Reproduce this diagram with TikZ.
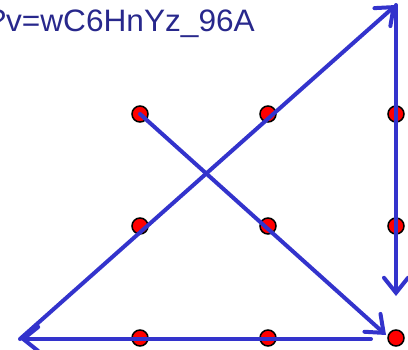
\documentclass[tikz,border=0pt]{standalone}
\usepackage{fontspec}
\setmainfont{Liberation Sans}
\usetikzlibrary{arrows.meta}
\definecolor{Puzzle}{RGB}{51,51,204}
\definecolor{Navy}{RGB}{40,40,140}
\definecolor{DotRed}{RGB}{255,0,0}

\begin{document}
\begin{tikzpicture}[
    x=1pt,y=-1pt,
    dot/.style={circle,draw=black,fill=DotRed,line width=1.5pt,minimum size=16pt,inner sep=0pt},
    stroke/.style={Puzzle,line width=4pt,line cap=round,-{Straight Barb[length=15pt,width=24pt,line cap=round]}},
    url/.style={Navy,font=\fontsize{31}{31}\selectfont,inner sep=0pt,anchor=base east}
]
\clip (0,0) rectangle (408,349);

% Link text (cut at the left edge)
\node[url] (link) at (255,31) {\scalebox{1.02}[1]{?v=wC6HnYz\_96A}};

% Row 1
\node[dot] (d11) at (140,114) {};
\node[dot] (d12) at (268,114) {};
\node[dot] (d13) at (396,114) {};

% Row 2
\node[dot] (d21) at (140,226) {};
\node[dot] (d22) at (268,226) {};
\node[dot] (d23) at (396,226) {};

% Row 3
\node[dot] (d31) at (140,338) {};
\node[dot] (d32) at (268,338) {};
\node[dot] (d33) at (396,338) {};

% Turning points of the path
\coordinate (end1) at (386,335);
\coordinate (start2) at (371,339);
\coordinate (left) at (20,339);
\coordinate (top) at (396,5);
\coordinate (end4) at (396,296);

% Four strokes
\draw[stroke] (d11.center) -- (end1);
\draw[stroke] (start2) -- (left);
\draw[stroke] (left) -- (top);
\draw[stroke] (top) -- (end4);

\end{tikzpicture}
\end{document}
